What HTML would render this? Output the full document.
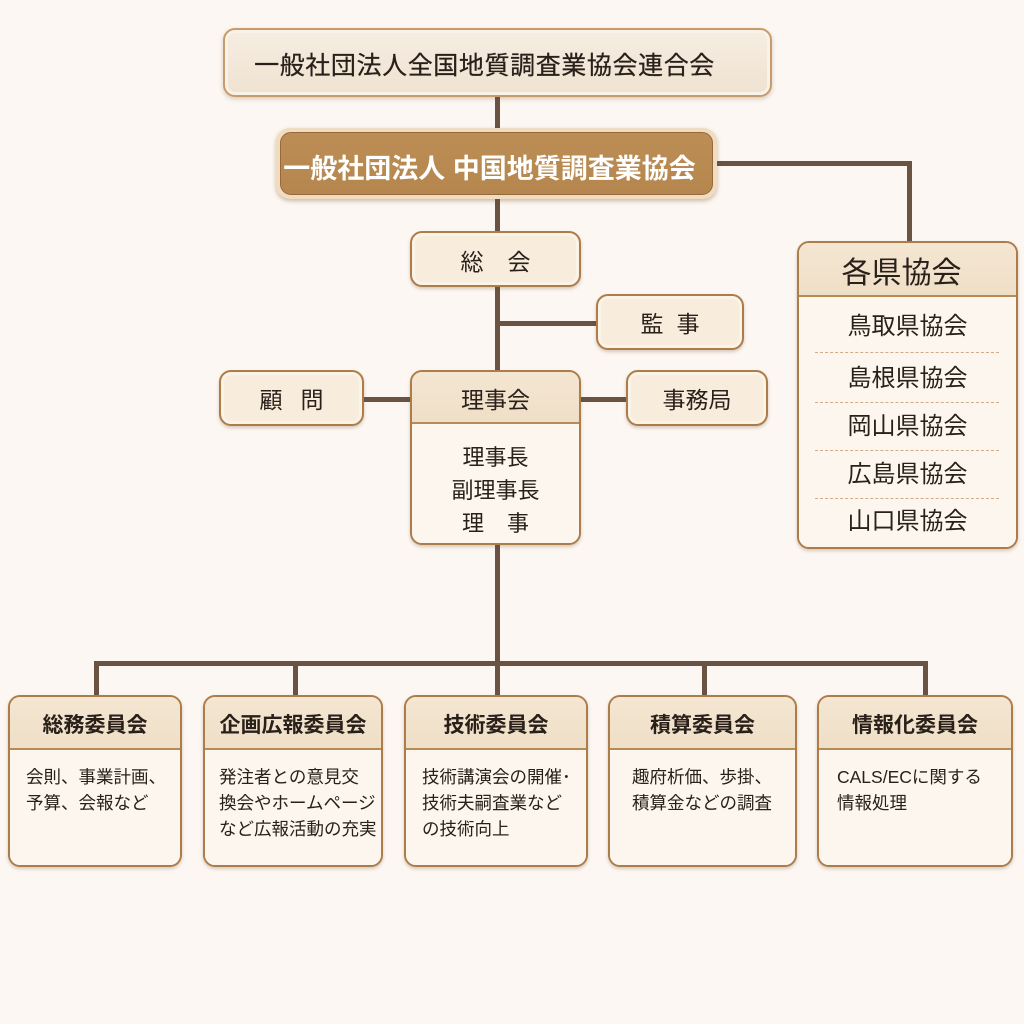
<!DOCTYPE html>
<html><head><meta charset="utf-8">
<style>
*{box-sizing:border-box;margin:0;padding:0}
html,body{width:1024px;height:1024px;overflow:hidden}
body{background:#fcf7f2;font-family:"Liberation Sans","Noto Sans CJK JP",sans-serif;color:#2a201a;position:relative}
.ln{position:absolute;background:#6b5344}
.box{position:absolute;border:2.5px solid #ac7d4a;border-radius:12px;background:#f8ecdc;box-shadow:inset 0 0 0 3px #fcf3e7,0 2px 3px rgba(110,70,30,.25);overflow:hidden}
.ctr{display:flex;align-items:center;justify-content:center;white-space:nowrap}
.hdr{position:absolute;left:0;right:0;top:0;background:linear-gradient(#f4e6d2,#efdfc7);border-bottom:2px solid #b88a55;display:flex;align-items:center;justify-content:center;white-space:nowrap}
.bd{position:absolute;left:0;right:0;bottom:0;background:#fdf6ee}
.t{position:absolute;white-space:nowrap}
.dash{position:absolute;left:16px;right:17px;height:0;border-top:1.5px dashed #cfab86}
</style></head><body>

<!-- connectors -->
<div class="ln" style="left:495px;top:95px;width:5px;height:570px"></div>
<div class="ln" style="left:715px;top:161px;width:197px;height:5px"></div>
<div class="ln" style="left:907px;top:161px;width:5px;height:82px"></div>
<div class="ln" style="left:497px;top:321px;width:102px;height:5px"></div>
<div class="ln" style="left:362px;top:397px;width:50px;height:5px"></div>
<div class="ln" style="left:579px;top:397px;width:49px;height:5px"></div>
<div class="ln" style="left:94px;top:661px;width:834px;height:5px"></div>
<div class="ln" style="left:94px;top:661px;width:5px;height:36px"></div>
<div class="ln" style="left:293px;top:661px;width:5px;height:36px"></div>
<div class="ln" style="left:495px;top:661px;width:5px;height:36px"></div>
<div class="ln" style="left:702px;top:661px;width:5px;height:36px"></div>
<div class="ln" style="left:923px;top:661px;width:5px;height:36px"></div>

<!-- top -->
<div class="box ctr" style="left:223px;top:28px;width:549px;height:69px;border-color:#c79b6c;background:linear-gradient(#f6ede2,#efe2d1);box-shadow:inset 0 0 0 3px #f9f2e9,0 2px 4px rgba(110,70,30,.25);font-size:25px;letter-spacing:0.6px;padding-right:26px;padding-top:2px;-webkit-text-stroke:0.25px #2a201a">一般社団法人全国地質調査業協会連合会</div>

<!-- main -->
<div style="position:absolute;left:276px;top:128px;width:441px;height:71px;border-radius:14px;background:#f0dcc0;box-shadow:0 2px 4px rgba(110,70,30,.35)"></div>
<div class="ctr" style="position:absolute;left:280px;top:132px;width:433px;height:63px;border-radius:11px;border:1.5px solid #96693a;background:linear-gradient(#bc8e56,#b5864d);color:#fff;font-weight:bold;font-size:27px;padding-top:5px;padding-right:14px">一般社団法人 中国地質調査業協会</div>

<!-- 総会 -->
<div class="box ctr" style="left:410px;top:231px;width:171px;height:56px;font-size:23px;padding-top:1px">総<span style="display:inline-block;width:24px"></span>会</div>
<!-- 監事 -->
<div class="box ctr" style="left:596px;top:294px;width:148px;height:56px;font-size:23px">監<span style="display:inline-block;width:13px"></span>事</div>
<!-- 顧問 -->
<div class="box ctr" style="left:219px;top:370px;width:145px;height:56px;font-size:23px">顧<span style="display:inline-block;width:18px"></span>問</div>
<!-- 事務局 -->
<div class="box ctr" style="left:626px;top:370px;width:142px;height:56px;font-size:23px">事務局</div>

<!-- 理事会 -->
<div class="box" style="left:410px;top:370px;width:171px;height:175px">
  <div class="hdr" style="height:52px;font-size:23px;padding-top:2px">理事会</div>
  <div class="bd" style="top:52px"></div>
  <div class="t" style="left:0;right:0;top:69px;text-align:center;font-size:22px;line-height:33px">理事長<br>副理事長<br>理<span style="display:inline-block;width:23px"></span>事</div>
</div>

<!-- 各県協会 -->
<div class="box" style="left:797px;top:241px;width:221px;height:308px">
  <div class="hdr" style="height:54px;font-size:30px;padding-top:2px;padding-right:12px">各県協会</div>
  <div class="bd" style="top:54px"></div>
  <div class="t" style="left:0;right:0;top:71px;text-align:center;font-size:24px;line-height:26px">鳥取県協会</div>
  <div class="dash" style="top:109px"></div>
  <div class="t" style="left:0;right:0;top:123px;text-align:center;font-size:24px;line-height:26px">島根県協会</div>
  <div class="dash" style="top:159px"></div>
  <div class="t" style="left:0;right:0;top:171px;text-align:center;font-size:24px;line-height:26px">岡山県協会</div>
  <div class="dash" style="top:207px"></div>
  <div class="t" style="left:0;right:0;top:219px;text-align:center;font-size:24px;line-height:26px">広島県協会</div>
  <div class="dash" style="top:255px"></div>
  <div class="t" style="left:0;right:0;top:266px;text-align:center;font-size:24px;line-height:26px">山口県協会</div>
</div>

<!-- committees -->
<div class="box" style="left:8px;top:695px;width:174px;height:172px">
  <div class="hdr" style="height:53px;font-size:21px;font-weight:bold;padding-top:2px">総務委員会</div>
  <div class="bd" style="top:53px"></div>
  <div class="t" style="left:16px;top:67px;font-size:17.5px;line-height:26px">会則、事業計画、<br>予算、会報など</div>
</div>
<div class="box" style="left:203px;top:695px;width:180px;height:172px">
  <div class="hdr" style="height:53px;font-size:21px;font-weight:bold;padding-top:2px">企画広報委員会</div>
  <div class="bd" style="top:53px"></div>
  <div class="t" style="left:14px;top:67px;font-size:17.5px;line-height:26px">発注者との意見交<br>換会やホームページ<br>など広報活動の充実</div>
</div>
<div class="box" style="left:404px;top:695px;width:184px;height:172px">
  <div class="hdr" style="height:53px;font-size:21px;font-weight:bold;padding-top:2px">技術委員会</div>
  <div class="bd" style="top:53px"></div>
  <div class="t" style="left:16px;top:67px;font-size:17.5px;line-height:26px">技術講演会の開催･<br>技術夫嗣査業など<br>の技術向上</div>
</div>
<div class="box" style="left:608px;top:695px;width:189px;height:172px">
  <div class="hdr" style="height:53px;font-size:21px;font-weight:bold;padding-top:2px">積算委員会</div>
  <div class="bd" style="top:53px"></div>
  <div class="t" style="left:22px;top:67px;font-size:17.5px;line-height:26px">趣府析価、歩掛、<br>積算金などの調査</div>
</div>
<div class="box" style="left:817px;top:695px;width:196px;height:172px">
  <div class="hdr" style="height:53px;font-size:21px;font-weight:bold;padding-top:2px">情報化委員会</div>
  <div class="bd" style="top:53px"></div>
  <div class="t" style="left:18px;top:67px;font-size:17.5px;line-height:26px">CALS/ECに関する<br>情報処理</div>
</div>

</body></html>
